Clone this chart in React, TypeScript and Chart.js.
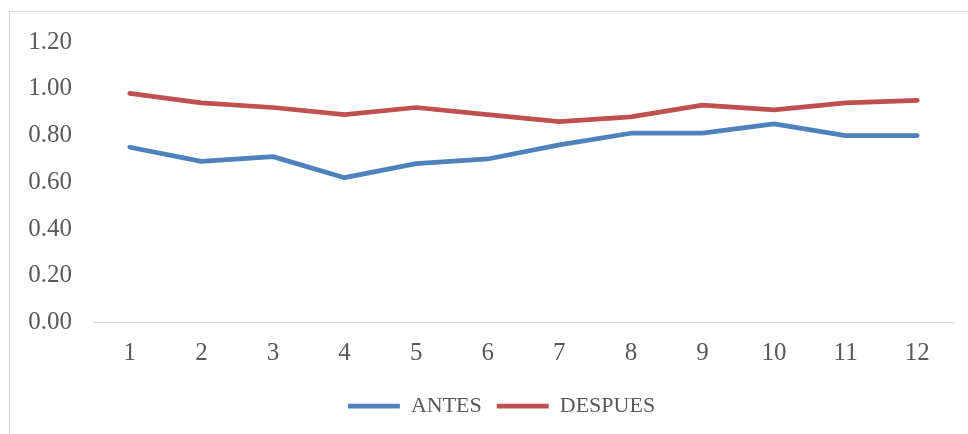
import React, { useEffect, useRef } from "react";
import { Chart, registerables } from "chart.js";

Chart.register(...registerables);

// Periods on the horizontal axis
const categories = ["1", "2", "3", "4", "5", "6", "7", "8", "9", "10", "11", "12"];

// Series values
const antes = [0.75, 0.69, 0.71, 0.62, 0.68, 0.7, 0.76, 0.81, 0.81, 0.85, 0.8, 0.8];
const despues = [0.98, 0.94, 0.92, 0.89, 0.92, 0.89, 0.86, 0.88, 0.93, 0.91, 0.94, 0.95];

// Value axis range
const yMin = 0;
const yMax = 1.2;
const yStep = 0.2;

const TEXT = "#595959";
const FONT = "'Liberation Serif', 'Times New Roman', serif";

// Centres the legend under the whole frame rather than under the plot box
const legendShift = {
  id: "legendShift",
  afterLayout(chart: any) {
    const lg = chart.legend;
    if (!lg) return;
    const dx = 11;
    lg.left += dx;
    lg.right += dx;
  },
};

export default function App() {
  const canvasRef = useRef<HTMLCanvasElement | null>(null);

  useEffect(() => {
    const canvas = canvasRef.current;
    if (!canvas) return;
    const chart = new Chart(canvas, {
      type: "line",
      data: {
        labels: categories,
        datasets: [
          {
            label: "ANTES",
            data: antes,
            borderColor: "#4F81BD",
            backgroundColor: "#4F81BD",
            borderWidth: 4.75,
            borderCapStyle: "round",
            borderJoinStyle: "round",
            pointRadius: 0,
            pointHoverRadius: 0,
            tension: 0,
            fill: false,
          },
          {
            label: "DESPUES",
            data: despues,
            borderColor: "#C0504D",
            backgroundColor: "#C0504D",
            borderWidth: 4.75,
            borderCapStyle: "round",
            borderJoinStyle: "round",
            pointRadius: 0,
            pointHoverRadius: 0,
            tension: 0,
            fill: false,
          },
        ],
      },
      plugins: [legendShift],
      options: {
        responsive: false,
        animation: false,
        events: [],
        layout: {
          padding: { left: 28, right: 15, top: 42, bottom: 7 },
        },
        scales: {
          x: {
            type: "category",
            offset: true,
            grid: { display: false, drawTicks: false },
            border: { display: true, color: "#D9D9D9", width: 1.3 },
            ticks: {
              color: TEXT,
              font: { family: FONT, size: 25 },
              padding: 16,
              maxRotation: 0,
              autoSkip: false,
            },
            afterFit: (scale: any) => {
              scale.height = 57.3;
            },
          },
          y: {
            min: yMin,
            max: yMax,
            grid: { display: false, drawTicks: false },
            border: { display: false },
            ticks: {
              stepSize: yStep,
              color: TEXT,
              font: { family: FONT, size: 25 },
              padding: 22,
              callback: (v: any) => Number(v).toFixed(2),
            },
            afterFit: (scale: any) => {
              scale.width = 66;
            },
          },
        },
        plugins: {
          tooltip: { enabled: false },
          legend: {
            display: true,
            position: "bottom",
            labels: {
              usePointStyle: true,
              pointStyle: "line",
              pointStyleWidth: 52,
              color: TEXT,
              font: { family: FONT, size: 22 },
              padding: 15,
            },
          },
        },
      },
    });
    return () => chart.destroy();
  }, []);

  return (
    <div
      style={{
        position: "fixed",
        left: 0,
        top: 0,
        width: 968,
        height: 434,
        background: "#ffffff",
        overflow: "hidden",
      }}
    >
      <div
        style={{
          position: "absolute",
          left: 9,
          top: 11,
          width: 1000,
          height: 500,
          border: "1.3px solid #D9D9D9",
        }}
      />
      <canvas
        ref={canvasRef}
        width={968}
        height={434}
        style={{ position: "absolute", left: 0, top: 0, width: 968, height: 434 }}
      />
    </div>
  );
}
